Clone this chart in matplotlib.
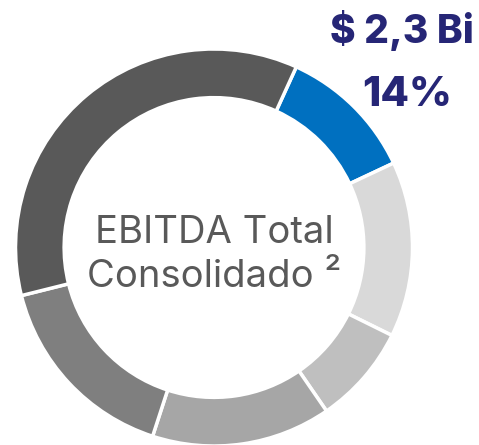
import matplotlib
matplotlib.use("Agg")
import matplotlib.pyplot as plt

# slice shares (%) read from the ring, clockwise from the blue one
shares = [11.2, 14.3, 8.1, 14.6, 16.1, 35.7]
colors = ["#0070c0", "#d9d9d9", "#bfbfbf", "#a6a6a6", "#7f7f7f", "#595959"]
value_label = "$ 2,3 Bi"
pct_label = "14%"
center_lines = ["EBITDA Total", "Consolidado ²"]

W, H = 479, 445
fig = plt.figure(figsize=(W / 100, H / 100), dpi=100)
ax = fig.add_axes([0, 0, 1, 1])

cx, cy, r = 214, H - 247.5, 198.5
ax.pie(shares, colors=colors, startangle=65.5, counterclock=False,
       center=(cx, cy), radius=r, frame=True,
       wedgeprops=dict(width=r * 0.245, edgecolor="white", linewidth=2.5))
ax.set_xlim(0, W)
ax.set_ylim(0, H)
ax.set_aspect("equal")
ax.axis("off")

# centre caption, one baseline per line
ax.text(cx, H - 243, center_lines[0], ha="center", va="baseline", fontsize=27.5,
        family="Inter", color="#595959")
ax.text(cx, H - 287, center_lines[1], ha="center", va="baseline", fontsize=27.5,
        family="Inter", color="#595959")

navy = "#262676"
ax.text(402, H - 43, value_label, ha="center", va="baseline", fontsize=28,
        family="Inter", fontweight="heavy", color=navy)
ax.text(407, H - 106, pct_label, ha="center", va="baseline", fontsize=30,
        family="Inter", fontweight="heavy", color=navy)

fig.savefig("out.png", dpi=100)
